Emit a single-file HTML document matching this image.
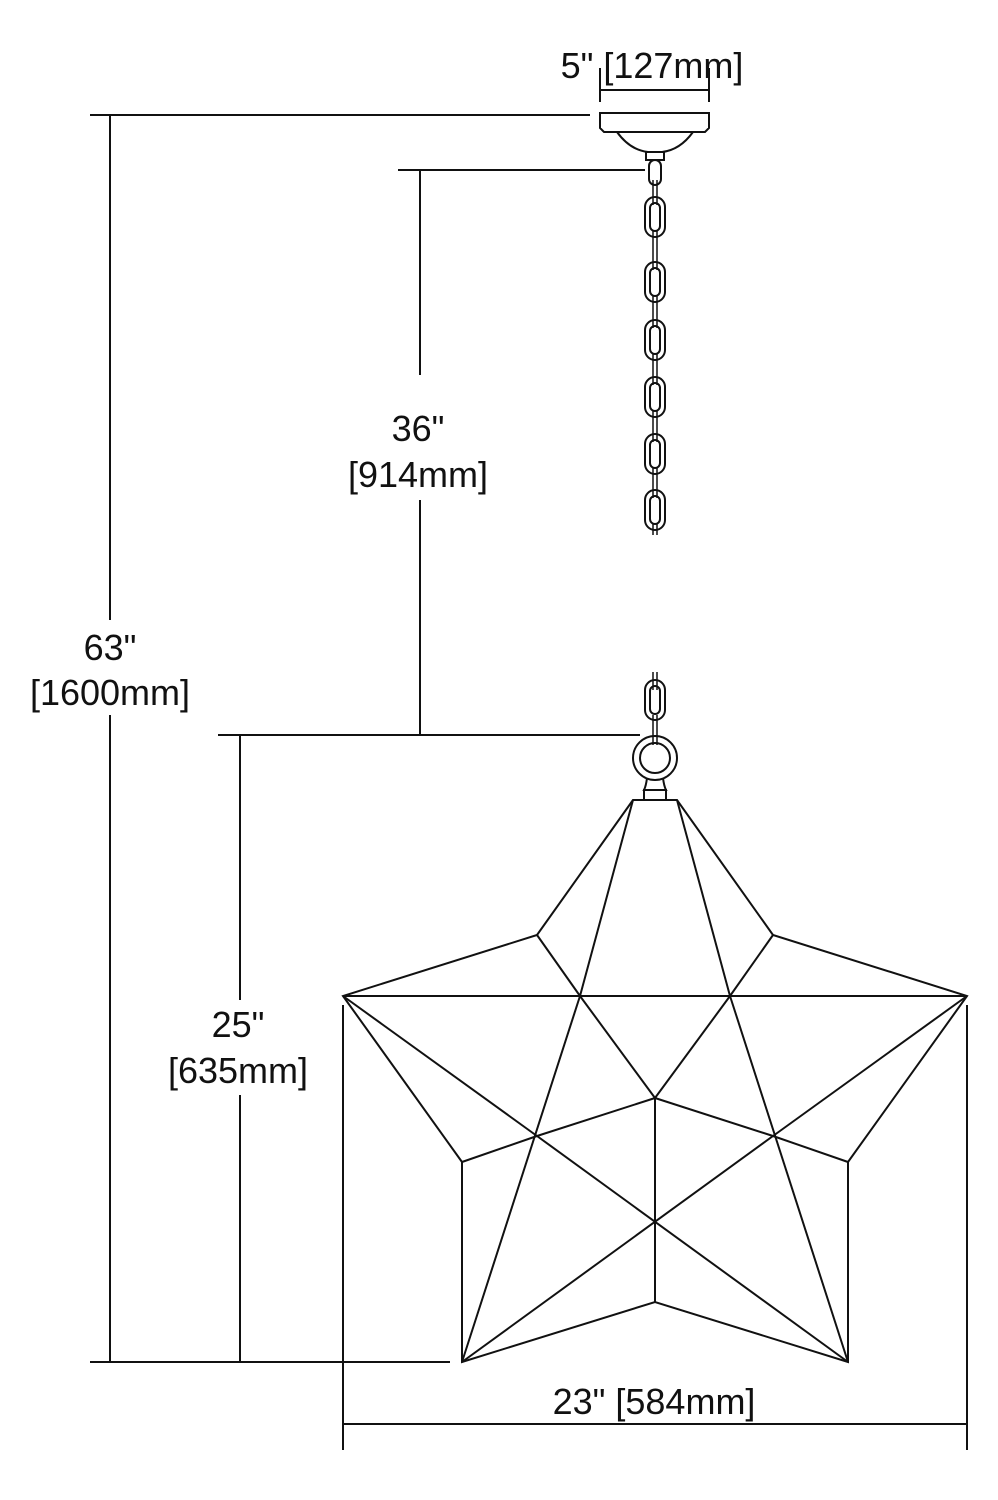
<!DOCTYPE html>
<html><head><style>body{margin:0;background:#fff}svg{display:block}text{font-family:"Liberation Sans",sans-serif;font-size:36px;fill:#111}</style></head>
<body>
<svg width="998" height="1500" viewBox="0 0 998 1500" xmlns="http://www.w3.org/2000/svg">
<g stroke="#111" stroke-width="2" fill="none">
<line x1="90" y1="115" x2="590" y2="115"/>
<line x1="90" y1="1362" x2="450" y2="1362"/>
<line x1="110" y1="115" x2="110" y2="620"/><line x1="110" y1="715" x2="110" y2="1362"/>
<line x1="398" y1="170" x2="645" y2="170"/>
<line x1="420" y1="170" x2="420" y2="375"/><line x1="420" y1="500" x2="420" y2="735"/>
<line x1="218" y1="735" x2="640" y2="735"/>
<line x1="240" y1="735" x2="240" y2="1000"/><line x1="240" y1="1095" x2="240" y2="1362"/>
<line x1="343" y1="1005" x2="343" y2="1450"/><line x1="967" y1="1005" x2="967" y2="1450"/>
<line x1="343" y1="1424" x2="967" y2="1424"/>
<line x1="600" y1="68" x2="600" y2="102"/><line x1="709" y1="68" x2="709" y2="102"/>
<line x1="600" y1="90" x2="709" y2="90"/>
<path d="M600 113 H709 V128 L705 132 H604 L600 128 Z"/>
<path d="M617 132 Q630 150 648 152 H662 Q680 150 693 132"/>
<rect x="646" y="152" width="18" height="8"/>
<rect x="649" y="160" width="12" height="25" rx="6"/>
<g>
<rect x="645" y="197" width="20" height="40" rx="10"/><rect x="650" y="203" width="10" height="28" rx="5"/>
<rect x="645" y="262" width="20" height="40" rx="10"/><rect x="650" y="268" width="10" height="28" rx="5"/>
<rect x="645" y="320" width="20" height="40" rx="10"/><rect x="650" y="326" width="10" height="28" rx="5"/>
<rect x="645" y="377" width="20" height="40" rx="10"/><rect x="650" y="383" width="10" height="28" rx="5"/>
<rect x="645" y="434" width="20" height="40" rx="10"/><rect x="650" y="440" width="10" height="28" rx="5"/>
<rect x="645" y="490" width="20" height="40" rx="10"/><rect x="650" y="496" width="10" height="28" rx="5"/>
</g>
<g stroke-width="1.5">
<line x1="653" y1="180" x2="653" y2="205"/><line x1="657" y1="180" x2="657" y2="205"/>
<line x1="653" y1="230" x2="653" y2="270"/><line x1="657" y1="230" x2="657" y2="270"/>
<line x1="653" y1="295" x2="653" y2="328"/><line x1="657" y1="295" x2="657" y2="328"/>
<line x1="653" y1="353" x2="653" y2="385"/><line x1="657" y1="353" x2="657" y2="385"/>
<line x1="653" y1="410" x2="653" y2="442"/><line x1="657" y1="410" x2="657" y2="442"/>
<line x1="653" y1="467" x2="653" y2="498"/><line x1="657" y1="467" x2="657" y2="498"/>
<line x1="653" y1="523" x2="653" y2="535"/><line x1="657" y1="523" x2="657" y2="535"/>
<line x1="653" y1="672" x2="653" y2="690"/><line x1="657" y1="672" x2="657" y2="690"/>
<line x1="653" y1="715" x2="653" y2="745"/><line x1="657" y1="715" x2="657" y2="745"/>
</g>
<rect x="645" y="680" width="20" height="40" rx="10"/><rect x="650" y="686" width="10" height="28" rx="5"/>
<circle cx="655" cy="758" r="22"/><circle cx="655" cy="758" r="15"/>
<path d="M647 778 Q646 786 644 790 H666 Q664 786 663 778"/>
<rect x="644" y="790" width="22" height="10"/>
<path d="M633 800 L537 935 L343 996 L462 1162 L462 1362 L655 1302 L848 1362 L848 1162 L967 996 L773 935 L677 800 Z"/>
<line x1="343" y1="996" x2="967" y2="996"/>
<line x1="633" y1="800" x2="580" y2="996"/><line x1="677" y1="800" x2="730" y2="996"/>
<line x1="537" y1="935" x2="580" y2="996"/><line x1="773" y1="935" x2="730" y2="996"/>
<line x1="580" y1="996" x2="655" y2="1098"/><line x1="730" y1="996" x2="655" y2="1098"/>
<line x1="343" y1="996" x2="537" y2="1136"/><line x1="967" y1="996" x2="773" y2="1136"/>
<line x1="537" y1="1136" x2="655" y2="1098"/><line x1="773" y1="1136" x2="655" y2="1098"/>
<line x1="580" y1="996" x2="462" y2="1362"/><line x1="730" y1="996" x2="848" y2="1362"/>
<line x1="462" y1="1162" x2="537" y2="1136"/><line x1="848" y1="1162" x2="773" y2="1136"/>
<line x1="462" y1="1362" x2="773" y2="1136"/><line x1="848" y1="1362" x2="537" y2="1136"/>
<line x1="655" y1="1098" x2="655" y2="1302"/>
</g>
<text x="652" y="78" text-anchor="middle">5" [127mm]</text>
<text x="418" y="441" text-anchor="middle">36"</text>
<text x="418" y="487" text-anchor="middle">[914mm]</text>
<text x="110" y="660" text-anchor="middle">63"</text>
<text x="110" y="705" text-anchor="middle">[1600mm]</text>
<text x="238" y="1037" text-anchor="middle">25"</text>
<text x="238" y="1083" text-anchor="middle">[635mm]</text>
<text x="654" y="1414" text-anchor="middle">23" [584mm]</text>
</svg>
</body></html>
